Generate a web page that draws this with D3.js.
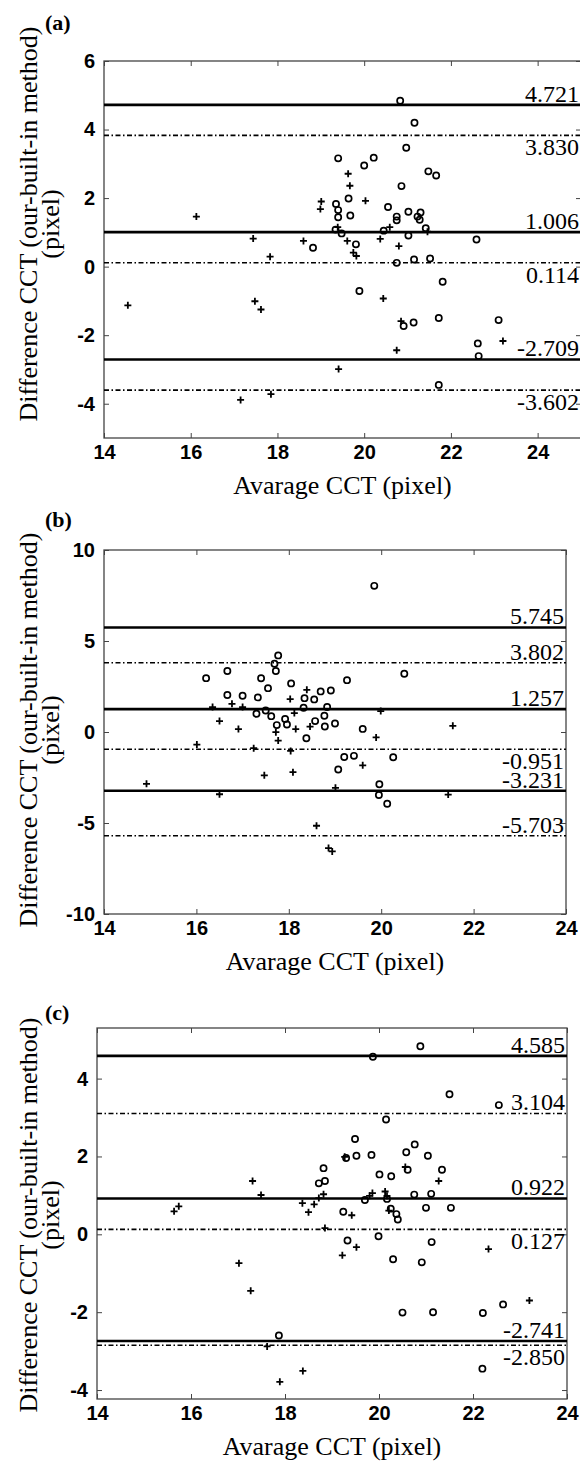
<!DOCTYPE html>
<html>
<head>
<meta charset="utf-8">
<script src="https://d3js.org/d3.v7.min.js"></script>
<style>
  body { margin: 0; background: #fff; }
  svg { display: block; }
</style>
</head>
<body>
<svg width="580" height="1470"></svg>
<script>
// ---- data ----
var xTicks = [14, 16, 18, 20, 22, 24];

// panel (a)
var aYTicks = [-4, -2, 0, 2, 4, 6];
var aLines = [4.721, 3.830, 1.006, 0.114, -2.709, -3.602];
var aCircles = [[20.83,4.84],[21.16,4.20],[20.97,3.47],[19.40,3.16],[20.00,2.95],[20.22,3.18],[21.48,2.78],[21.66,2.66],
  [20.86,2.35],[19.64,1.99],[19.35,1.83],[19.40,1.65],[19.40,1.44],[19.68,1.49],[20.55,1.74],[20.75,1.46],[20.75,1.35],
  [21.02,1.60],[21.30,1.58],[21.23,1.46],[21.28,1.37],[21.42,1.12],[19.34,1.08],[19.48,0.97],[20.45,1.05],[21.02,0.91],
  [22.59,0.79],[18.82,0.55],[19.81,0.65],[20.75,0.11],[21.15,0.21],[21.52,0.24],[21.81,-0.44],[19.89,-0.71],[21.72,-1.50],
  [20.91,-1.73],[21.14,-1.63],[23.10,-1.56],[22.62,-2.24],[22.64,-2.61],[21.72,-3.45]];
var aPlus = [[16.13,1.46],[19.01,1.90],[18.99,1.68],[19.63,2.71],[19.67,2.36],[20.03,1.92],[17.44,0.82],[18.60,0.75],
  [19.39,1.15],[19.61,0.75],[20.37,0.81],[20.59,1.15],[20.80,0.60],[21.46,1.02],[17.83,0.29],[19.75,0.41],[19.82,0.31],
  [14.55,-1.13],[17.48,-1.01],[17.62,-1.25],[20.44,-0.93],[20.85,-1.59],[23.20,-2.17],[20.75,-2.44],[19.41,-2.99],
  [17.15,-3.89],[17.85,-3.72]];

// panel (b)
var bYTicks = [-10, -5, 0, 5, 10];
var bLines = [5.745, 3.802, 1.257, -0.951, -3.231, -5.703];
var bCircles = [[19.85,8.03],[17.77,4.21],[17.69,3.75],[17.72,3.35],[16.67,3.35],[16.21,2.96],[20.50,3.20],[17.40,2.95],
  [18.05,2.67],[17.55,2.41],[19.26,2.85],[16.67,2.03],[17.00,1.99],[17.33,1.90],[18.34,1.86],[18.55,1.79],[18.69,2.23],
  [18.91,2.28],[18.32,1.33],[18.83,1.37],[17.50,1.18],[17.30,1.00],[17.62,0.87],[17.92,0.72],[18.77,0.89],[18.57,0.60],
  [17.74,0.38],[17.96,0.41],[18.78,0.30],[19.00,0.47],[18.38,-0.34],[19.60,0.17],[19.20,-1.37],[19.41,-1.31],[20.26,-1.39],
  [19.07,-2.06],[19.96,-2.87],[19.95,-3.46],[20.13,-3.94]];
var bPlus = [[14.92,-2.85],[16.01,-0.69],[16.35,1.37],[16.50,0.60],[16.50,-3.42],[16.77,1.55],[16.91,0.16],[17.00,1.37],
  [17.24,-0.89],[17.47,-2.38],[17.72,-0.01],[17.77,-0.47],[18.03,1.81],[18.12,1.04],[18.15,0.16],[18.04,-1.04],[18.09,-2.21],
  [18.39,2.32],[18.46,0.30],[18.60,-5.15],[18.86,-6.38],[18.94,-6.56],[19.01,-3.07],[19.60,-1.83],[19.89,-0.30],[19.99,1.15],
  [21.45,-3.44],[21.55,0.34]];

// panel (c)
var cYTicks = [-4, -2, 0, 2, 4];
var cLines = [4.585, 3.104, 0.922, 0.127, -2.741, -2.850];
var cCircles = [[20.88,4.83],[19.87,4.56],[21.50,3.60],[22.55,3.32],[20.15,2.95],[19.49,2.45],[20.76,2.31],[20.58,2.11],
  [21.04,2.02],[19.30,1.96],[19.52,2.02],[19.84,2.04],[18.82,1.70],[20.61,1.66],[21.34,1.66],[20.01,1.54],[20.26,1.49],
  [18.72,1.31],[18.85,1.37],[20.75,1.02],[21.11,1.04],[19.70,0.88],[20.17,0.91],[19.24,0.58],[20.25,0.66],[20.37,0.52],
  [20.40,0.38],[21.00,0.68],[21.53,0.68],[19.99,-0.05],[19.33,-0.16],[21.12,-0.20],[20.30,-0.64],[20.91,-0.72],
  [20.50,-2.01],[21.15,-2.00],[22.21,-2.02],[22.64,-1.80],[17.87,-2.60],[22.20,-3.45]];
var cPlus = [[15.64,0.59],[15.74,0.72],[17.31,1.37],[17.49,1.01],[17.02,-0.74],[17.27,-1.45],[17.62,-2.88],[17.89,-3.79],
  [18.38,-3.51],[18.37,0.80],[18.50,0.57],[18.62,0.77],[18.72,0.93],[18.82,1.03],[18.85,0.16],[19.27,1.99],[19.42,0.49],
  [19.22,-0.54],[19.52,-0.33],[19.80,0.99],[19.86,1.06],[20.13,1.10],[20.17,0.99],[20.21,0.61],[20.56,1.73],[21.27,1.37],
  [22.33,-0.38],[23.20,-1.70]];

// ---- drawing ----
var svg = d3.select("svg");
var serif = "'Liberation Serif', 'Times New Roman', serif";
var sans = "'Liberation Sans', Arial, sans-serif";

var panels = [
  {name: "(a)", letterY: 30, left: 104, right: 581, top: 61, bottom: 438, xDomain: [14, 25], yDomain: [-5, 6],
   yTicks: aYTicks, lines: aLines, circles: aCircles, plus: aPlus, labelY: 224,
   sides: ["above", "below", "above", "below", "above", "below"]},
  {name: "(b)", letterY: 527, left: 104, right: 566, top: 550, bottom: 914, xDomain: [14, 24], yDomain: [-10, 10],
   yTicks: bYTicks, lines: bLines, circles: bCircles, plus: bPlus, labelY: 730,
   sides: ["above", "above", "above", "below", "above", "above"]},
  {name: "(c)", letterY: 1020, left: 97, right: 567, top: 1028, bottom: 1399, xDomain: [14, 24], yDomain: [-4.23, 5.3],
   yTicks: cYTicks, lines: cLines, circles: cCircles, plus: cPlus, labelY: 1215,
   sides: ["above", "above", "above", "below", "above", "below"]}
];

panels.forEach(function(p) {
  var x = d3.scaleLinear().domain(p.xDomain).range([p.left, p.right]);
  var y = d3.scaleLinear().domain(p.yDomain).range([p.bottom, p.top]);
  var g = svg.append("g");

  // axes (ticks inside, like matlab)
  var bottomAxis = g.append("g")
      .attr("transform", "translate(0," + p.bottom + ")")
      .call(d3.axisBottom(x).tickValues(xTicks).tickSizeInner(-5).tickSizeOuter(0).tickPadding(7)
        .tickFormat(function(d) { return String(d); }));
  var topAxis = g.append("g")
      .attr("transform", "translate(0," + p.top + ")")
      .call(d3.axisTop(x).tickValues(xTicks).tickSizeInner(-5).tickSizeOuter(0).tickFormat(""));
  var leftAxis = g.append("g")
      .attr("transform", "translate(" + p.left + ",0)")
      .call(d3.axisLeft(y).tickValues(p.yTicks).tickSizeInner(-5).tickSizeOuter(0).tickPadding(9)
        .tickFormat(function(d) { return String(d); }));
  var rightAxis = g.append("g")
      .attr("transform", "translate(" + p.right + ",0)")
      .call(d3.axisRight(y).tickValues(p.yTicks).tickSizeInner(-5).tickSizeOuter(0).tickFormat(""));

  [bottomAxis, topAxis, leftAxis, rightAxis].forEach(function(a) {
    a.select(".domain").remove();
    a.selectAll("line").attr("stroke", "#444");
    a.selectAll("text")
      .style("font-family", sans)
      .style("font-size", "20px")
      .style("font-weight", "bold")
      .attr("fill", "#000");
  });

  g.append("rect")
      .attr("x", p.left).attr("y", p.top)
      .attr("width", p.right - p.left).attr("height", p.bottom - p.top)
      .attr("fill", "none")
      .attr("stroke", "#444")
      .attr("stroke-width", 1.3);

  // reference lines + values
  p.lines.forEach(function(v, i) {
    var solid = i % 2 == 0;
    g.append("line")
        .attr("x1", p.left).attr("x2", p.right)
        .attr("y1", y(v)).attr("y2", y(v))
        .attr("stroke", "#000")
        .attr("stroke-width", solid ? 2.6 : 1.6)
        .attr("stroke-dasharray", solid ? null : "5,2.5,1.5,2.5");
    g.append("text")
        .attr("x", p.right - 2)
        .attr("y", p.sides[i] == "above" ? y(v) - 3 : y(v) + 20)
        .attr("text-anchor", "end")
        .style("font-family", serif)
        .style("font-size", "24px")
        .text(v.toFixed(3));
  });

  // points
  g.selectAll(".circ")
    .data(p.circles)
    .enter().append("circle")
      .attr("cx", function(d) { return x(d[0]); })
      .attr("cy", function(d) { return y(d[1]); })
      .attr("r", 3.1)
      .attr("fill", "none")
      .attr("stroke", "#000")
      .attr("stroke-width", 1.7);
  g.selectAll(".plus")
    .data(p.plus)
    .enter().append("path")
      .attr("transform", function(d) { return "translate(" + x(d[0]) + "," + y(d[1]) + ")"; })
      .attr("d", "M-3.5,0H3.5M0,-3.5V3.5")
      .attr("stroke", "#000")
      .attr("stroke-width", 1.8);

  // labels
  g.append("text")
      .attr("x", 45).attr("y", p.letterY)
      .style("font-family", serif)
      .style("font-size", "22px")
      .style("font-weight", "bold")
      .text(p.name);
  g.append("text")
      .attr("x", (p.left + p.right) / 2).attr("y", p.bottom + 56)
      .attr("text-anchor", "middle")
      .style("font-family", serif)
      .style("font-size", "26px")
      .text("Avarage CCT (pixel)");
  g.append("text")
      .attr("transform", "translate(37," + p.labelY + ") rotate(-90)")
      .attr("text-anchor", "middle")
      .style("font-family", serif)
      .style("font-size", "26px")
      .text("Difference CCT (our-built-in method)");
  g.append("text")
      .attr("transform", "translate(59," + p.labelY + ") rotate(-90)")
      .attr("text-anchor", "middle")
      .style("font-family", serif)
      .style("font-size", "26px")
      .text("(pixel)");
});
</script>
</body>
</html>
